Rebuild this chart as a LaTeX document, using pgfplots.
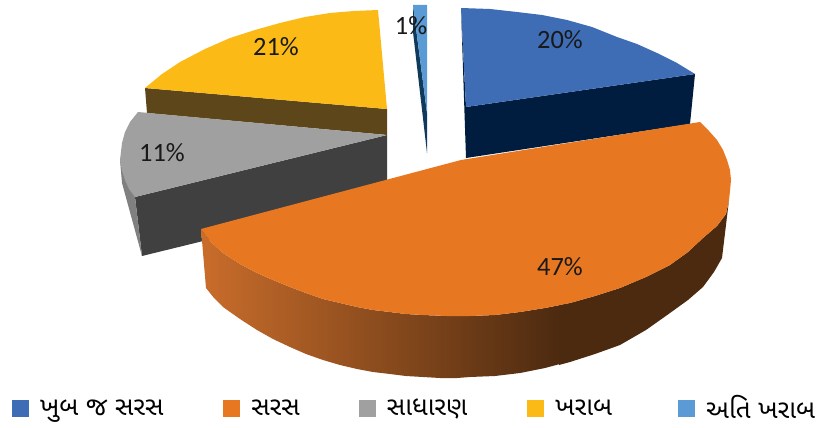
\documentclass[border=0pt]{standalone}
\usepackage{fontspec}
\usepackage{pgfplots}
\pgfplotsset{compat=1.18}
\setmainfont{Carlito}
\newfontfamily\gujfont[Script=Gujarati]{Noto Sans Gujarati UI}
\definecolor{cblue}{HTML}{3E6DB5}
\definecolor{cblued}{HTML}{001C3E}
\definecolor{corange}{HTML}{E87722}
\definecolor{cgrey}{HTML}{A0A0A0}
\definecolor{cgreyd}{HTML}{404040}
\definecolor{cgreym}{HTML}{808080}
\definecolor{cyellow}{HTML}{FBBA16}
\definecolor{cyellowd}{HTML}{5D471A}
\definecolor{clb}{HTML}{5A9BD5}
\definecolor{clbd}{HTML}{0F3A5C}
\definecolor{coral}{HTML}{C96D2B}
\definecolor{cord}{HTML}{4C2A10}
\begin{document}
\begin{tikzpicture}
\path (0,0) rectangle (821bp,428bp);
\begin{axis}[
  scale only axis, width=821bp, height=428bp,
  xmin=0, xmax=821, ymin=0, ymax=428, y dir=reverse,
  hide axis, clip=false,
  legend style={draw=none, fill=none, at={(axis cs:12,408)}, anchor=west, inner sep=0pt, outer sep=0pt,
    legend columns=5, font=\gujfont\fontsize{26}{28}\selectfont,
    /tikz/column 1/.style={column sep=11bp},
    /tikz/column 3/.style={column sep=11bp},
    /tikz/column 5/.style={column sep=11bp},
    /tikz/column 7/.style={column sep=11bp},
    /tikz/column 9/.style={column sep=11bp},
    /tikz/column 2/.style={column sep=60bp},
    /tikz/column 4/.style={column sep=59bp},
    /tikz/column 6/.style={column sep=60bp},
    /tikz/column 8/.style={column sep=66bp},
    nodes={inner sep=0pt, outer sep=0pt}},
  legend cell align=left,
  legend image code/.code={\fill[#1] (0bp,-8.5bp) rectangle (17bp,8.5bp);},
]
\addlegendimage{draw=none, fill=cblue}\addlegendentry{ખુબ જ સરસ}
\addlegendimage{draw=none, fill=corange}\addlegendentry{સરસ}
\addlegendimage{draw=none, fill=cgrey}\addlegendentry{સાધારણ}
\addlegendimage{draw=none, fill=cyellow}\addlegendentry{ખરાબ}
\addlegendimage{draw=none, fill=clb}\addlegendentry{અતિ ખરાબ}
% blue
\addplot[forget plot, draw=none, fill=cblued] coordinates {(461,8)(466,107)(695,74)(690,124)(466,158)} -- cycle;
\addplot[forget plot, draw=none, fill=cblue] coordinates {(461,8)(490,9)(517,12)(542,15)(567,20)(592,27)(617,37)(637,44)(657,53)(677,63)(695,74)(466,107)} -- cycle;
% yellow
\addplot[forget plot, draw=none, fill=cyellowd] coordinates {(145,88)(147,113)(387,135)(387,109)} -- cycle;
\addplot[forget plot, draw=none, fill=cyellow] coordinates {(378,10)(354,11)(330,13)(305,17)(280,23)(255,30)(230,38)(205,49)(180,62)(162,74)(145,88)(387,109)} -- cycle;
% light blue
\addplot[forget plot, draw=none, fill=clbd] coordinates {(413,5)(427,113)(427,153)(413,32)} -- cycle;
\addplot[forget plot, draw=none, fill=clb] coordinates {(413,5)(427,5)(427,113)} -- cycle;
% grey
\addplot[forget plot, draw=none, fill=cgreyd] coordinates {(135,197)(142,256)(387,196)(387,135)} -- cycle;
\addplot[forget plot, draw=none, fill=cgreym] coordinates {(120,160)(122,183)(142,256)(135,197)} -- cycle;
\addplot[forget plot, draw=none, fill=cgrey] coordinates {(138,112)(130,122)(125,132)(122,143)(120,160)(122,171)(125,180)(129,189)(135,197)(387,135)} -- cycle;
% orange side
\addplot[forget plot, draw=none, left color=coral, right color=cord] coordinates {(201,229)(211,242)(223,253)(240,264)(257,273)(273,280)(290,287)(306,293)(323,299)(340,303)(357,307)(373,310)(390,312)(406,314)(423,315)(447,316)(470,316)(495,315)(520,312)(545,308)(560,305)(560,364)(545,368)(520,373)(495,376)(470,377)(457,378)(440,378)(423,377)(406,376)(390,374)(373,372)(357,369)(340,365)(323,360)(306,354)(290,347)(273,339)(257,330)(240,319)(223,307)(214,298)(206,288)} -- cycle;
\addplot[forget plot, draw=none, fill=cord] coordinates {(559,305)(570,303)(595,296)(620,288)(646,277)(670,265)(688,252)(703,238)(717,226)(726,214)(729,200)(722,258)(714,272)(703,287)(688,300)(670,313)(646,330)(620,345)(595,354)(570,362)(559,365)} -- cycle;
% orange top
\addplot[forget plot, draw=none, fill=corange] coordinates {(461,160)(700,122)(709,131)(717,140)(723,150)(727,160)(730,170)(731,180)(730,191)(729,200)(726,214)(717,226)(703,238)(688,252)(670,265)(646,277)(620,288)(595,296)(570,303)(545,308)(520,312)(495,315)(470,316)(447,316)(423,315)(406,314)(390,312)(373,310)(357,307)(340,303)(323,299)(306,293)(290,287)(273,280)(257,273)(240,264)(223,253)(211,242)(201,229)} -- cycle;
\begin{scope}[every node/.style={font=\fontsize{26.5}{28}\selectfont, text=black!90}]
\node at (axis cs:560,40) {20\%};
\node at (axis cs:560,267) {47\%};
\node at (axis cs:162,153) {11\%};
\node at (axis cs:276,47) {21\%};
\node at (axis cs:411,26) {1\%};
\end{scope}
\end{axis}
\end{tikzpicture}
\end{document}
